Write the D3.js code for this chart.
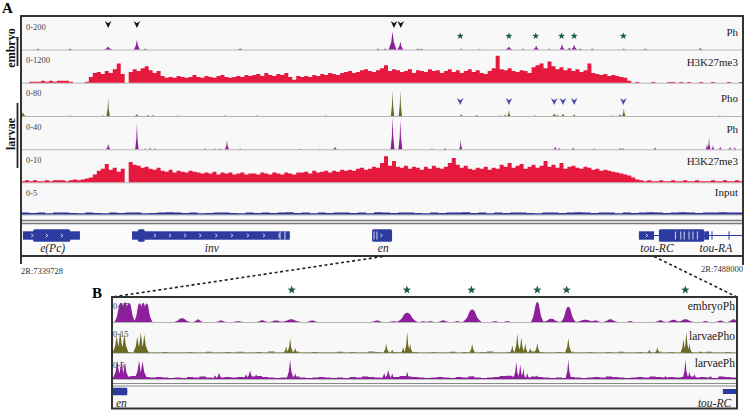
<!DOCTYPE html>
<html><head><meta charset="utf-8">
<script src="https://cdn.jsdelivr.net/npm/d3@7/dist/d3.min.js"></script>
<style>
html,body{margin:0;padding:0;background:#fff;}
svg{display:block;}
text{font-family:"Liberation Serif","Times New Roman",serif;}
</style></head><body>
<svg id="chart" width="744" height="410"></svg>
<script>
// ================= DATA =================
const chrom = "2R";
const regionStart = 7339728, regionEnd = 7488000;
const zoomDomainKb = [74.9, 128.1];      // panel B window (kb from region start)
const zoomLinkKb = [74.3, 130.0];        // where the dashed links leave panel A

// H3K27me3 embryo (0-1200), equal bins across region
const embryoK27 = [0,0,36,36,36,72,36,72,36,72,72,72,36,0,0,0,36,
216,360,396,324,432,360,504,720,324,0,
396,504,432,540,612,468,360,432,252,
180,216,180,252,216,180,216,288,216,180,252,216,180,252,288,216,180,216,252,216,288,252,
288,324,252,360,288,252,324,288,360,216,108,252,
216,252,216,288,252,324,288,360,324,288,360,396,
432,360,396,468,504,432,396,468,540,648,432,504,
468,396,432,504,360,468,432,396,504,432,468,360,
432,504,396,468,360,432,504,396,468,360,324,432,
540,1000,504,468,540,432,
396,468,432,360,576,648,
720,540,792,612,504,576,
468,540,432,504,396,468,
720,360,324,288,324,252,
288,252,216,180,72,
0,30,0,0,0,30,0,0,0,30,30,0,30,0,30,0,0,30,0,0,30,0,0,0,30,0,0,30];

// H3K27me3 larvae (0-10)
const larvaeK27 = [0.3,0.6,0.3,0.6,0.3,0.3,0.6,0.3,0.6,0.6,
0.6,0.3,0.6,0.9,0.6,0.9,1.2,1.5,
2.4,3.6,4.2,5.7,3.9,4.5,3.3,4.2,0,
6.3,5.4,5.1,4.5,4.8,4.2,3.9,4.5,
3.6,3.3,3.9,3.0,3.6,3.3,3.0,3.6,3.3,3.0,2.7,
3.0,2.7,3.3,2.4,3.0,2.7,3.0,2.4,2.7,3.0,2.4,2.7,
2.7,2.4,3.0,2.7,2.4,3.0,2.7,2.4,3.0,2.7,2.4,3.0,
3.0,3.3,2.7,3.6,3.0,3.3,3.6,3.0,3.6,3.3,3.9,3.6,
3.9,3.6,4.2,4.5,3.9,4.2,4.8,4.5,6.0,8.1,5.1,6.6,
4.8,4.5,5.1,4.2,4.8,4.5,3.9,4.8,4.2,5.1,4.5,4.2,
4.8,6.0,7.5,5.4,4.5,5.1,4.2,3.9,4.5,4.2,4.8,3.9,
4.5,4.2,5.4,4.8,6.0,4.5,5.1,5.7,4.2,4.8,5.4,4.5,
5.1,6.6,4.8,5.4,4.5,6.0,4.2,4.8,5.1,4.5,4.2,4.8,
4.5,3.9,4.2,3.6,3.9,3.6,3.3,3.0,
2.7,2.4,2.1,1.5,0.9,
0.6,0.3,0.6,0.3,0.3,0.6,0.3,0.3,0.6,0.3,0.3,0.6,0.3,0.3,0.6,0.3,0.3,0.3,0.6,0.3,0.3,0.6,0.3,0.3,0.6,0.3];

// Input (0-5)
const inputSig = [0.3,0.25,0.3,0.2,0.3,0.3,0.25,0.2,0.3,0.25,
0.2,0.3,0.25,0.3,0.3,0.2,0.25,0.3,0.35,0.3,
0.25,0.3,0.2,0.25,0.3,0.3,0.25,0.2,0.3,0.25,
0.3,0.25,0.3,0.35,0.25,0.3,0.2,0.3,0.25,0.3,
0.3,0.25,0.3,0.2,0.35,0.3,0.25,0.3,0.3,0.25,
0.2,0.3,0.25,0.3,0.3,0.35,0.25,0.3,0.2,0.3,
0.25,0.3,0.3,0.25,0.2,0.3,0.3,0.25,0.3,0.35,
0.3,0.25,0.3,0.3,0.2,0.3,0.25,0.3,0.35,0.3,
0.25,0.3,0.35,0.3,0.25,0.3,0.3,0.35,0.3,0.3];

// peaks: [position kb, value, half-width kb]
const embryoPhPeaks = [[3.5,6,0.4],[10.1,6,0.4],[17.9,18,0.8],[23.8,60,0.6],[25.5,6,0.4],[45.0,6,0.6],
[73.3,6,0.4],[74.8,6,0.4],[76.3,110,0.8],[77.9,50,0.6],[81.5,6,0.4],[82.2,6,0.3],[90.4,6,0.3],[94.2,5,0.3],
[100.2,18,0.7],[103.1,6,0.3],[105.8,24,0.6],[108.5,6,0.3],[111.1,36,0.5],[112.6,12,0.5],[113.6,30,0.6],
[114.8,6,0.4],[117.3,6,0.4],[123.8,6,0.3],[128.2,6,0.4],[139.5,9,0.5]];
const larvaePhoPeaks = [[0.4,10,0.5],[10.1,1.2,0.3],[16.8,1.2,0.3],[17.9,44,0.35],[23.8,5,0.4],[26.1,2.4,0.3],
[27.1,2.4,0.3],[32.2,1.5,0.3],[41.9,1.5,0.3],[48.5,1.2,0.3],[62.6,1.2,0.3],[76.3,63,0.35],[77.9,63,0.35],
[90.4,5,0.3],[93.6,2.4,0.3],[98.4,1.5,0.3],[99.4,3.6,0.3],[100.2,15,0.3],[105.6,1.5,0.3],[109.5,7,0.35],
[110.1,3.6,0.3],[111.3,7,0.3],[113.6,5,0.3],[121.4,1.5,0.3],[123.0,5,0.3],[123.8,19,0.35],[143.5,1.2,0.3]];
const larvaePhPeaks = [[17.9,7,0.4],[23.8,32,0.35],[25.5,1.2,0.3],[26.5,1.8,0.3],[27.5,1.2,0.3],[37.8,1.2,0.3],
[39.8,1.2,0.3],[40.9,1.2,0.3],[42.3,11,0.4],[45.0,1.2,0.3],[57.3,0.8,0.3],[61.4,0.8,0.3],[64.5,3.6,0.4],
[76.3,40,0.4],[77.9,36,0.4],[84.4,1.2,0.3],[87.1,1.8,0.3],[90.3,12,0.3],[109.7,3.6,0.35],[110.5,1.8,0.3],
[113.4,2.4,0.3],[117.7,1.2,0.3],[123.0,1.8,0.3],[123.6,1.8,0.3],[130.2,2.4,0.3],[140.9,7,0.3],[141.3,14.5,0.3],
[142.1,5,0.3],[143.6,3.6,0.3],[145.6,3.6,0.3],[146.6,2.4,0.3]];

// panel B (zoom) peaks
const zEmbryoPhPeaks = [[75.65,12.5,0.55],[76.0,12.8,0.55],[76.35,12.5,0.55],[77.25,12.3,0.5],[77.55,12.5,0.5],[77.85,12,0.5],
[80.86,2.4,0.7],[82.23,1.6,0.45],
[84.18,1.0,0.45],[85.63,0.5,0.6],[87.68,1.1,0.5],[88.87,1.0,0.6],[90.15,1.8,0.8],[91.94,1.0,0.5],[97.47,1.0,0.5],
[98.84,0.5,0.5],[100.03,6.0,0.9],[101.39,0.5,0.4],[101.99,0.5,0.4],[103.09,1.0,0.5],[104.29,0.5,0.4],[105.56,8.2,0.8],
[107.52,0.5,0.4],[108.55,0.5,0.4],[111.1,13.0,0.55],[112.29,2.2,0.7],[113.74,10.0,0.65],[115.19,1.5,0.9],
[116.04,1.0,0.5],[117.32,1.8,0.6],[119.02,0.6,0.4],[121.58,1.1,0.5],[122.69,1.4,0.6],[123.71,1.8,0.7],
[125.41,0.6,0.4],[126.69,0.9,0.4],[127.8,1.8,0.5]];
const zLarvaePhoPeaks = [[75.3,9,0.35],[75.6,11.5,0.35],[75.95,10,0.35],[77.05,8.5,0.35],[77.35,10.5,0.35],[77.65,9.5,0.35],
[89.72,3.5,0.2],[90.06,7.5,0.25],[90.49,2.5,0.2],[98.24,4.5,0.25],[98.75,1.5,0.2],[99.69,3,0.2],[100.03,11,0.22],
[100.28,5,0.2],[105.56,4.5,0.25],[108.97,4,0.2],[109.4,10,0.25],[109.74,8,0.25],[110.08,5,0.2],[110.5,2.5,0.2],
[111.1,5,0.25],[113.74,7.5,0.28],[120.64,1.5,0.2],[121.32,3,0.2],[123.54,7,0.25],[123.79,11,0.25],[124.05,5,0.2],
[124.99,0.8,0.2]];
const zLarvaePhPeaks = [[75.35,3.8,0.4],[75.7,3.7,0.4],[76.0,3.6,0.35],[77.2,3.8,0.4],[77.5,3.7,0.4],[78.0,0.4,0.3],[83.67,0.8,0.3],[84.01,1.3,0.3],
[86.31,1.0,0.3],[86.65,1.7,0.35],[87.17,1.0,0.3],[90.06,4.0,0.3],[90.49,1.2,0.25],[98.07,1.2,0.3],[98.41,1.9,0.3],
[98.75,1.2,0.25],[100.03,1.5,0.25],[105.56,0.6,0.3],[109.31,3.6,0.25],[109.65,3.0,0.25],[109.91,2.3,0.2],
[110.25,1.2,0.25],[111.1,0.8,0.25],[113.74,4.0,0.25],[117.4,0.4,0.3],[122.0,0.6,0.3],[123.71,4.0,0.25],
[124.05,1.5,0.25],[124.47,1.0,0.3],[125.84,0.6,0.3],[126.69,0.5,0.3]];
const zPhoNoise = [0.3,0.2,0.4,0.3,0.2,0.5,0.3,0.2,0.4,0.3,0.2,0.3,0.4,0.2,0.3,0.5,0.3,0.2,0.4,0.3,
0.5,0.3,0.2,0.4,0.3,0.6,0.3,0.2,0.4,0.5,0.3,0.2,0.4,0.3,0.2,0.3,0.5,0.3,0.4,0.2,
0.3,0.6,0.4,0.3,0.2,0.4,0.3,0.5,0.4,0.3,0.2,0.4,0.3,0.2,0.5,0.3,0.4,0.2,0.3,0.4,
0.6,0.3,0.2,0.4,0.3,0.5,0.3,0.6,0.4,0.3,0.2,0.4,0.3,0.5,0.2,0.3,0.4,0.3,0.2,0.4,
0.3,0.5,0.3,0.2,0.4,0.3,0.2,0.5,0.3,0.4,0.2,0.3,0.4,0.3,0.2,0.5,0.3,0.2,0.4,0.3];
const zPhNoise = [0.3,0.4,0.5,0.6,0.5,0.4,0.3,0.4,0.3,0.2,0.3,0.2,0.4,0.3,0.5,0.3,0.2,0.3,0.4,0.3,
0.4,0.3,0.5,0.6,0.4,0.3,0.2,0.3,0.4,0.5,0.3,0.2,0.3,0.4,0.3,0.2,0.3,0.2,0.4,0.3,
0.5,0.4,0.3,0.2,0.3,0.4,0.6,0.5,0.4,0.3,0.2,0.3,0.4,0.3,0.2,0.4,0.3,0.5,0.3,0.2,
0.3,0.4,0.6,0.7,0.5,0.4,0.3,0.5,0.4,0.3,0.2,0.3,0.2,0.4,0.3,0.2,0.3,0.4,0.3,0.5,
0.4,0.3,0.2,0.3,0.4,0.3,0.5,0.4,0.3,0.4,0.3,0.4,0.5,0.3,0.4,0.3,0.2,0.5,0.4,0.3];

// annotations (kb)
const blackArrowsKb = [17.9, 23.8, 76.6, 78.0];
const starsKb = [90.2, 100.2, 105.7, 111.0, 113.6, 123.7];
const phoArrowsKb = [90.2, 100.2, 109.5, 111.3, 113.6, 123.7];
const zoomStarsKb = [90.2, 100.0, 105.5, 111.1, 113.6, 123.7];

// genes (kb)
const geneNames = ["e(Pc)", "inv", "en", "tou-RC", "tou-RA"];
const geneLabelKb = [6.5, 39.2, 74.4, 130.6, 142.7];
const geneSpans = [[0.4,12.1],[22.8,55.2],[72.1,76.2],[126.9,148.272]];
const exonsUTR = [[0.4,12.1],[22.8,55.2],[126.9,130.0],[140.3,141.3],[141.8,142.0],[145.3,145.5]];
const exonsCDS = [[2.5,10.1],[24.0,25.4],[72.1,76.2],[131.0,140.3]];
const exonGapsKb = [53.2,54.2,72.5,73.1,134.4,135.5,136.2,137.2,138.0,138.9];
const strandMarksKb = [2.3,5.3,8.4,27.5,30.6,33.7,36.8,40.1,43.3,46.6,49.9,53.0,74.0,128.5];
const zoomGeneNames = ["en", "tou-RC"];
const zoomGeneLabelKb = [75.7, 127.6];

// ================= DRAW =================
const C = {ph:"#8e1f9c", k27:"#e5183d", pho:"#6b6a25", input:"#2a3592", gene:"#2d3ba0",
           star:"#1c5e3d", phoArrow:"#4a4cae", frame:"#333", base:"#b5b5b5", bg:"#f8f8f8"};
const svg = d3.select("#chart");
const regionKb = (regionEnd - regionStart) / 1000;
const xA = d3.scaleLinear().domain([0, regionKb]).range([21, 743]);
const xB = d3.scaleLinear().domain(zoomDomainKb).range([112, 737]);

const defs = svg.append("defs");
defs.append("clipPath").attr("id","clipA").append("rect").attr("x",21).attr("y",16).attr("width",722).attr("height",240);
defs.append("clipPath").attr("id","clipB").append("rect").attr("x",112).attr("y",297).attr("width",625).attr("height",112);

function starPath(R){let p="";for(let i=0;i<10;i++){const r=i%2?R*0.42:R;const a=-Math.PI/2+i*Math.PI/5;p+=(i?"L":"M")+(r*Math.cos(a)).toFixed(2)+","+(r*Math.sin(a)).toFixed(2);}return p+"Z";}
const arrowPath = "M-3.3,-3.6L0,-1.3L3.3,-3.6L0,3.6Z";

function peakPts(p, smooth){
  const [c,v,w]=p;
  return smooth ? [[c-w,0],[c-w*0.55,v*0.35],[c-w*0.2,v*0.92],[c,v],[c+w*0.2,v*0.92],[c+w*0.55,v*0.35],[c+w,0]]
                : [[c-w,0],[c-w*0.35,v*0.4],[c,v],[c+w*0.35,v*0.4],[c+w,0]];
}
function drawSignal(g, x, t, domain){
  const y = d3.scaleLinear().domain([0,t.max]).range([t.base, t.top]).clamp(true);
  if (t.bins){
    const bw = (domain[1]-domain[0]) / t.bins.length;
    const pts = t.bins.map((v,i)=>[domain[0]+i*bw, v]);
    pts.push([domain[1], t.bins[t.bins.length-1]]);
    g.append("path").datum(pts).attr("fill", t.color)
      .attr("d", d3.area().x(d=>x(d[0])).y0(t.base).y1(d=>y(d[1])).curve(d3.curveStepAfter));
  }
  if (t.peaks){
    const ar = d3.area().x(d=>x(d[0])).y0(t.base).y1(d=>y(d[1]))
      .curve(t.smooth ? d3.curveMonotoneX : d3.curveLinear);
    g.selectAll(null).data(t.peaks).enter().append("path")
      .attr("fill", t.color).attr("d", p=>ar(peakPts(p, t.smooth)));
  }
}

// ---------- Panel A ----------
svg.append("text").text("A").attr("x",2).attr("y",13).attr("font-size",15).attr("font-weight","bold");
const gA = svg.append("g");
gA.append("rect").attr("x",21).attr("y",16).attr("width",722).attr("height",240).attr("fill",C.bg);
gA.append("rect").attr("x",21).attr("y",224).attr("width",722).attr("height",32).attr("fill","#fbfbfb");

const tracksA = [
  {label:"Ph", range:"0-200", max:200, top:17, base:49.5, color:C.ph, peaks:embryoPhPeaks, nameY:36},
  {label:"H3K27me3", range:"0-1200", max:1200, top:50.5, base:82.7, color:C.k27, bins:embryoK27, nameY:66},
  {label:"Pho", range:"0-80", max:80, top:83.5, base:116, color:C.pho, peaks:larvaePhoPeaks, nameY:102},
  {label:"Ph", range:"0-40", max:40, top:117, base:149.3, color:C.ph, peaks:larvaePhPeaks, nameY:133},
  {label:"H3K27me3", range:"0-10", max:10, top:150, base:182.3, color:C.k27, bins:larvaeK27, nameY:165},
  {label:"Input", range:"0-5", max:5, top:183, base:214.5, color:C.input, bins:inputSig, nameY:196}
];
const gAc = gA.append("g").attr("clip-path","url(#clipA)");
tracksA.forEach(t=>{
  gAc.append("line").attr("x1",21).attr("x2",743).attr("y1",t.base+0.5).attr("y2",t.base+0.5).attr("stroke",C.base).attr("stroke-width",1);
  gA.append("text").text(t.range).attr("x",26).attr("y",t.top+12.5).attr("font-size",8.5).attr("fill","#444");
  gA.append("text").text(t.label).attr("x",738).attr("y",t.nameY).attr("text-anchor","end").attr("font-size",11).attr("fill","#222");
  drawSignal(gAc, xA, t, [0, regionKb]);
});
// separators
[220.5, 223.5].forEach(y=>gA.append("line").attr("x1",21).attr("x2",743).attr("y1",y).attr("y2",y).attr("stroke","#7a7a7a").attr("stroke-width",1.3));

function drawGenes(g, x, cy, s){
  g.selectAll(null).data(geneSpans).enter().append("line")
    .attr("x1",d=>x(d[0])).attr("x2",d=>x(d[1])).attr("y1",cy).attr("y2",cy).attr("stroke",C.gene).attr("stroke-width",1.2);
  g.selectAll(null).data(exonsUTR).enter().append("rect")
    .attr("x",d=>x(d[0])).attr("width",d=>Math.max(1,x(d[1])-x(d[0]))).attr("y",cy-4.2*s).attr("height",8.4*s).attr("fill",C.gene);
  g.selectAll(null).data(exonsCDS).enter().append("rect")
    .attr("x",d=>x(d[0])).attr("width",d=>x(d[1])-x(d[0])).attr("y",cy-6.2*s).attr("height",12.4*s).attr("fill",C.gene).attr("rx",1.5*s);
  g.selectAll(null).data(exonGapsKb).enter().append("line")
    .attr("x1",d=>x(d)).attr("x2",d=>x(d)).attr("y1",cy-4*s).attr("y2",cy+4*s).attr("stroke","#fff").attr("stroke-width",0.8);
  g.selectAll(null).data(strandMarksKb).enter().append("path")
    .attr("transform",d=>`translate(${x(d)},${cy})`).attr("d",`M${-1*s},${-1.6*s}L${1*s},0L${-1*s},${1.6*s}`)
    .attr("fill","none").attr("stroke","#fff").attr("stroke-width",0.8);
}
drawGenes(gAc, xA, 235.5, 1);
gA.selectAll(null).data(geneNames).enter().append("text").text(d=>d)
  .attr("x",(d,i)=>xA(geneLabelKb[i])).attr("y",251.5).attr("text-anchor","middle")
  .attr("font-size",11.5).attr("font-style","italic").attr("fill","#222");

// markers
gA.selectAll(null).data(blackArrowsKb).enter().append("path").attr("d",arrowPath)
  .attr("transform",d=>`translate(${xA(d)},24.5)`).attr("fill","#111");
gA.selectAll(null).data(starsKb).enter().append("path").attr("d",starPath(3.6))
  .attr("transform",d=>`translate(${xA(d)},36)`).attr("fill",C.star);
gA.selectAll(null).data(phoArrowsKb).enter().append("path").attr("d",arrowPath)
  .attr("transform",d=>`translate(${xA(d)},101.5)`).attr("fill",C.phoArrow);

// frame A
const fr = (x1,y1,x2,y2)=>svg.append("line").attr("x1",x1).attr("y1",y1).attr("x2",x2).attr("y2",y2).attr("stroke",C.frame).attr("stroke-width",2);
fr(20,16,744,16); fr(21,16,21,264); fr(743,16,743,265); fr(21,256,743,256);

// coordinates
svg.append("text").text(`${chrom}:${regionStart}`).attr("x",21).attr("y",274).attr("font-size",8.5).attr("fill","#333");
svg.append("text").text(`${chrom}:${regionEnd}`).attr("x",743).attr("y",272).attr("text-anchor","end").attr("font-size",8.5).attr("fill","#333");

// side labels
function sideLabel(txt, cy, y1, y2, bx){
  svg.append("text").text(txt).attr("transform",`translate(14.5,${cy}) rotate(-90)`).attr("text-anchor","middle")
    .attr("font-size",12).attr("font-weight","bold").attr("fill","#111");
  svg.append("line").attr("x1",bx).attr("x2",bx).attr("y1",y1).attr("y2",y2).attr("stroke","#222").attr("stroke-width",1.8);
}
sideLabel("embryo", 48, 37, 66, 17.5);
sideLabel("larvae", 134, 103, 168, 17.5);

// dashed links
const links = [[xA(zoomLinkKb[0]),256.5,112,297],[xA(zoomLinkKb[1]),256.5,737,297]];
links.forEach(l=>svg.append("line").attr("x1",l[0]).attr("y1",l[1]).attr("x2",l[2]).attr("y2",l[3])
  .attr("stroke","#222").attr("stroke-width",1.6).attr("stroke-dasharray","3,2.6"));

// ---------- Panel B ----------
svg.append("text").text("B").attr("x",92).attr("y",298).attr("font-size",15).attr("font-weight","bold");
const gB = svg.append("g");
gB.append("rect").attr("x",112).attr("y",297).attr("width",625).attr("height",112).attr("fill",C.bg);
const tracksB = [
  {label:"embryoPh", range:"0-15", max:15, top:299, base:322, color:C.ph, peaks:zEmbryoPhPeaks, smooth:true, nameY:310, rangeY:309},
  {label:"larvaePho", range:"0-15", max:15, top:324, base:352.7, color:C.pho, peaks:zLarvaePhoPeaks, bins:zPhoNoise, nameY:340, rangeY:337},
  {label:"larvaePh", range:"0-5", max:5, top:355, base:379, color:C.ph, peaks:zLarvaePhPeaks, bins:zPhNoise, nameY:367, rangeY:368}
];
const gBc = gB.append("g").attr("clip-path","url(#clipB)");
tracksB.forEach(t=>{
  gBc.append("line").attr("x1",112).attr("x2",737).attr("y1",t.base+0.5).attr("y2",t.base+0.5).attr("stroke",C.base);
  gB.append("text").text(t.range).attr("x",113).attr("y",t.rangeY).attr("font-size",8.5).attr("fill","#444");
  gB.append("text").text(t.label).attr("x",735).attr("y",t.nameY).attr("text-anchor","end").attr("font-size",11.5).attr("fill","#222");
});
tracksB.forEach(t=>drawSignal(gBc, xB, t, zoomDomainKb));
[383.5, 386].forEach(y=>gB.append("line").attr("x1",112).attr("x2",737).attr("y1",y).attr("y2",y).attr("stroke","#8a8a8a").attr("stroke-width",1.2));
drawGenes(gBc, xB, 391.5, 0.6);
gB.selectAll(null).data(zoomGeneNames).enter().append("text").text(d=>d)
  .attr("x",(d,i)=>xB(zoomGeneLabelKb[i])).attr("y",406.5).attr("text-anchor",(d,i)=>i?"end":"middle")
  .attr("font-size",11.5).attr("font-style","italic").attr("fill","#222");
svg.selectAll(null).data(zoomStarsKb).enter().append("path").attr("d",starPath(4.4))
  .attr("transform",d=>`translate(${xB(d)},290)`).attr("fill",C.star);
svg.append("rect").attr("x",112).attr("y",297).attr("width",625).attr("height",111.5).attr("fill","none").attr("stroke",C.frame).attr("stroke-width",2);
</script>
</body></html>
